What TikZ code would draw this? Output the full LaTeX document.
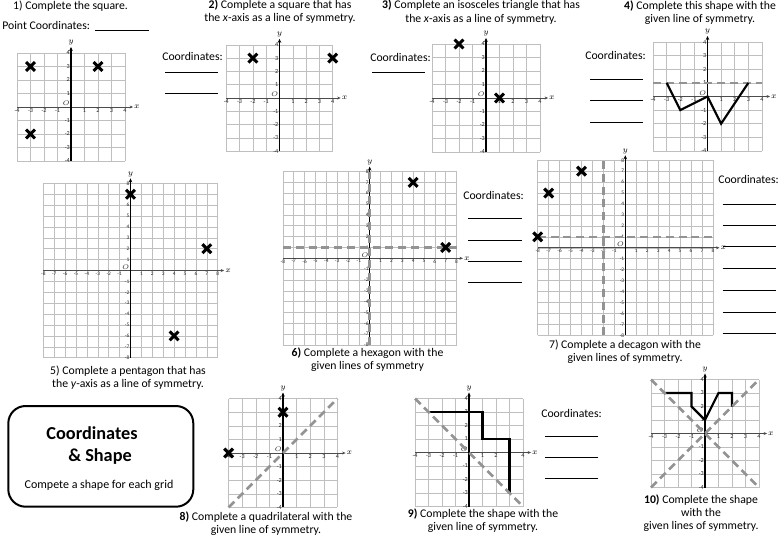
\documentclass[tikz,border=0pt]{standalone}
\usepackage{fontspec}
\setmainfont{Carlito}
\usetikzlibrary{arrows.meta}
\tikzset{
 gridline/.style={draw=gray!50, line width=0.45pt},
 xaxis/.style={draw=gray!60!black, line width=0.5pt, -{Stealth[length=2.6pt,width=2.2pt]}},
 yaxis/.style={draw=black, line width=1.1pt, -{Stealth[length=3pt,width=2.6pt]}},
 ticklab/.style={font=\fontsize{4.6}{5}\selectfont, inner sep=0.7pt, text=black!85},
 axlab/.style={font=\fontsize{6}{6}\selectfont, inner sep=0.6pt},
 xmark/.style={line width=2.3pt, black},
 symline/.style={draw=gray!85, line width=2pt, dash pattern=on 6pt off 3.6pt},
 shapeline/.style={black, line width=1.6pt, line join=miter},
 titletext/.style={font=\fontsize{8.8}{9.9}\selectfont, align=center, inner sep=0},
 coordtext/.style={font=\fontsize{8.8}{9.9}\selectfont, anchor=west, inner sep=0},
 blankline/.style={black, line width=0.6pt},
 bigtick/.style={ticklab/.append style={font=\fontsize{4}{4.5}\selectfont}},
}
\newcommand{\drawgrid}[1]{%
  \draw[gridline,step=1] (-#1,-#1) grid (#1,#1);
  \draw[xaxis] (-#1,0) -- (#1+0.6,0) node[axlab,right] {$x$};
  \draw[yaxis] (0,-#1) -- (0,#1+0.45) node[axlab,above] {$y$};
  \foreach \i in {-#1,...,-1} {
    \node[ticklab,below] at (\i,0) {\i};
    \node[ticklab,left] at (0,\i) {\i};
  }
  \foreach \i in {1,...,#1} {
    \node[ticklab,below] at (\i,0) {\i};
    \node[ticklab,left] at (0,\i) {\i};
  }
  \node[ticklab,above left] at (0,0) {$O$};
}
\newcommand{\xcross}[2]{%
  \draw[xmark] (#1,#2) ++(-3.3pt,-3.3pt) -- ++(6.6pt,6.6pt)
               (#1,#2) ++(-3.3pt,3.3pt) -- ++(6.6pt,-6.6pt);}
\begin{document}
\begin{tikzpicture}[x=0.75pt,y=-0.75pt]
\useasboundingbox (0,0) rectangle (780,540);
\fill[white] (0,0) rectangle (780,540);

% ---------- Grid 1
\begin{scope}[shift={(71,107)}, x=10.125pt, y=10.125pt]
  \drawgrid{4}
  \xcross{-3}{3}\xcross{2}{3}\xcross{-3}{-2}
\end{scope}
\node[titletext] (t1) at (70.5,6) {1) Complete the square.};
\node[coordtext] (c1) at (2,25) {Point Coordinates:};
\draw[blankline] (95,30) -- (149,30);

% ---------- Grid 2
\begin{scope}[shift={(279.5,98)}, x=9.975pt, y=9.975pt]
  \drawgrid{4}
  \xcross{-2}{3}\xcross{4}{3}
\end{scope}
\node[titletext] (t2) at (280,11.5) {\textbf{2)} Complete a square that has\\the \textit{x}-axis as a line of symmetry.};
\node[coordtext] (c2) at (162,56) {Coordinates:};
\draw[blankline] (165,72) -- (218,72);
\draw[blankline] (165,93) -- (218,93);

% ---------- Grid 3
\begin{scope}[shift={(486,98)}, x=10.125pt, y=10.125pt]
  \drawgrid{4}
  \xcross{-2}{4}\xcross{1}{0}
\end{scope}
\node[titletext] (t3) at (481,12) {\textbf{3)} Complete an isosceles triangle that has\\the \textit{x}-axis as a line of symmetry.};
\node[coordtext] (c3) at (370,57) {Coordinates:};
\draw[blankline] (372,72) -- (425,72);

% ---------- Grid 4
\begin{scope}[shift={(707.5,96.5)}, x=10.2pt, y=10.2pt]
  \drawgrid{4}
  \draw[symline] (-4,1) -- (4,1);
  \draw[shapeline] (-3,1) -- (-2,-1) -- (0,0) -- (1,-2) -- (3,1);
\end{scope}
\node[titletext] (t4) at (700,12.5) {\textbf{4)} Complete this shape with the\\given line of symmetry.};
\node[coordtext] (c4) at (585,55) {Coordinates:};
\foreach \yy in {79.5,100,122.5} \draw[blankline] (590,\yy) -- (643,\yy);

% ---------- Grid 5
\begin{scope}[shift={(130.5,270.5)}, x=8.175pt, y=8.175pt, bigtick]
  \drawgrid{8}
  \xcross{0}{7}\xcross{7}{2}\xcross{4}{-6}
\end{scope}
\node[titletext] (t5) at (128,377.5) {5) Complete a pentagon that has\\the \textit{y}-axis as a line of symmetry.};

% ---------- Grid 6
\begin{scope}[shift={(369.7,258.3)}, x=8.1375pt, y=8.1375pt, bigtick]
  \drawgrid{8}
  \draw[symline] (-8,1) -- (8,1);
  \draw[symline] (0,-8) -- (0,8);
  \xcross{4}{7}\xcross{7}{1}
\end{scope}
\node[titletext] (t6) at (367.5,360) {\textbf{6)} Complete a hexagon with the\\given lines of symmetry};
\node[coordtext] (c6) at (463,195) {Coordinates:};
\foreach \yy in {218.3,240,261,282.7} \draw[blankline] (468,\yy) -- (522,\yy);

% ---------- Grid 7
\begin{scope}[shift={(625.3,247.8)}, x=8.2125pt, y=8.2125pt, bigtick]
  \drawgrid{8}
  \draw[symline] (-8,1) -- (8,1);
  \draw[symline] (-2,-8) -- (-2,8);
  \xcross{-4}{7}\xcross{-7}{5}\xcross{-8}{1}
\end{scope}
\node[titletext] (t7) at (625,351.7) {7) Complete a decagon with the\\given lines of symmetry.};
\node[coordtext] (c7) at (718,179) {Coordinates:};
\foreach \yy in {204,225,246.7,268.3,290,312.3,333.3} \draw[blankline] (722.7,\yy) -- (776,\yy);

% ---------- Title box
\draw[line width=1.5pt, rounded corners=13pt] (8.3,406) rectangle (193.3,506.7);
\node[font=\fontsize{13.7}{15}\selectfont\bfseries, inner sep=0] (b1) at (92,433) {Coordinates};
\node[font=\fontsize{13.7}{15}\selectfont\bfseries, inner sep=0] (b2) at (100,457) {\& Shape};
\node[font=\fontsize{9}{10}\selectfont, inner sep=0] (b3) at (99,485) {Compete a shape for each grid};

% ---------- Grid 8
\begin{scope}[shift={(283,453)}, x=10.2pt, y=10.2pt]
  \drawgrid{4}
  \draw[symline] (-4,-4) -- (4,4);
  \xcross{0}{3}\xcross{-4}{0}
\end{scope}
\node[titletext] (t8) at (266,524) {\textbf{8)} Complete a quadrilateral with the\\given line of symmetry.};

% ---------- Grid 9
\begin{scope}[shift={(469,452.5)}, x=10.125pt, y=10.125pt]
  \drawgrid{4}
  \draw[shapeline] (-3,3) -- (1,3) -- (1,1) -- (3,1) -- (3,-3);
  \draw[symline] (-4,4) -- (4,-4);
\end{scope}
\node[titletext] (t9) at (483,520.5) {\textbf{9)} Complete the shape with the\\given line of symmetry.};
\node[coordtext] (c9) at (541,413.3) {Coordinates:};
\foreach \yy in {436.7,457.3,478.3} \draw[blankline] (545,\yy) -- (598,\yy);

% ---------- Grid 10
\begin{scope}[shift={(705,433.5)}, x=10.125pt, y=10.125pt]
  \drawgrid{4}
  \draw[shapeline] (-3,3) -- (-1,3) -- (-1,2) -- (0,1) -- (1,3) -- (2,3) -- (2,2);
  \draw[symline] (-4,-4) -- (4,4);
  \draw[symline] (-4,4) -- (4,-4);
\end{scope}
\node[titletext] (t10) at (701,513) {\textbf{10)} Complete the shape\\with the\\given lines of symmetry.};
\end{tikzpicture}
\end{document}
